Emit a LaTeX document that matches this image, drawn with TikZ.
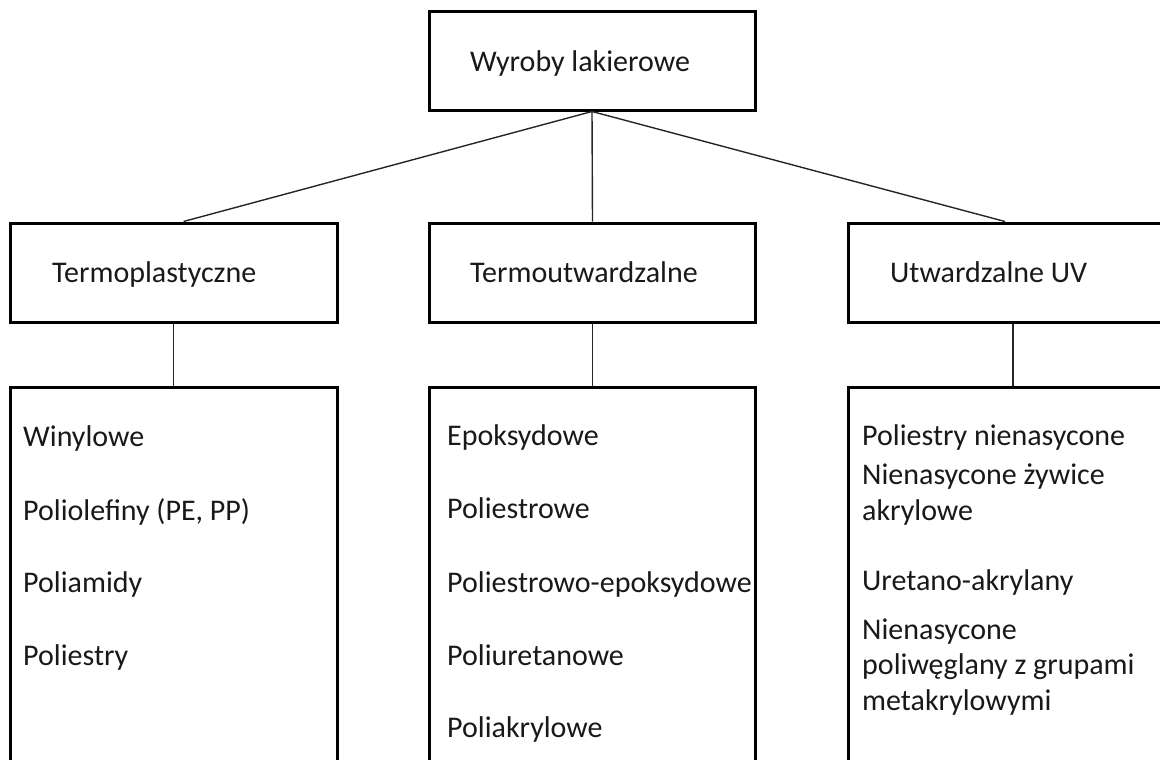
\documentclass[tikz,border=0pt]{standalone}
\usepackage{fontspec}
\setmainfont{Carlito}
\begin{document}
\begin{tikzpicture}[x=1pt,y=-1pt,
  box/.style={draw=black,line width=3pt,inner sep=0pt,fill=none},
  conn/.style={draw=black!85,line width=1.4pt},
  lbl/.style={anchor=base west,inner sep=0pt,align=left,font=\fontsize{30}{35.5}\selectfont,text=black!90}]
\useasboundingbox (0,0) rectangle (1160,760);
\clip (0,0) rectangle (1160,760);
\fill[white] (0,0) rectangle (1160,760);
% boxes
\node[box,minimum width=326pt,minimum height=98pt] (top) at (592,61) {};
\node[box,minimum width=327pt,minimum height=99pt] (m1) at (173.5,272.5) {};
\node[box,minimum width=326pt,minimum height=99pt] (m2) at (592.5,272.5) {};
\node[box,minimum width=330pt,minimum height=99pt] (m3) at (1013,272.5) {};
\node[box,minimum width=327pt,minimum height=413pt] (b1) at (173.5,593.5) {};
\node[box,minimum width=326pt,minimum height=413pt] (b2) at (592.5,593.5) {};
\node[box,minimum width=330pt,minimum height=413pt] (b3) at (1013,593.5) {};
% connectors
\draw[conn] (top.south) -- ([xshift=10pt]m1.north);
\draw[conn] (top.south) -- (m2.north);
\draw[conn] (top.south) -- ([xshift=-8pt]m3.north);
\draw[conn] (m1.south) -- (b1.north);
\draw[conn] (m2.south) -- (b2.north);
\draw[conn] (m3.south) -- (b3.north);
% labels
\node[lbl] (ttop) at (470,72) {Wyroby lakierowe};
\node[lbl] (tm1) at (52,282) {Termoplastyczne};
\node[lbl] (tm2) at (470,282) {Termoutwardzalne};
\node[lbl] (tm3) at (890,282) {Utwardzalne UV};
\node[lbl] (l11) at (23,446) {Winylowe};
\node[lbl] (l12) at (23,520) {Poliolefiny (PE, PP)};
\node[lbl] (l13) at (23,592) {Poliamidy};
\node[lbl] (l14) at (23,665) {Poliestry};
\node[lbl] (l21) at (447,445) {Epoksydowe};
\node[lbl] (l22) at (447,518) {Poliestrowe};
\node[lbl] (l23) at (447,592) {Poliestrowo-epoksydowe};
\node[lbl] (l24) at (447,665) {Poliuretanowe};
\node[lbl] (l25) at (447,737) {Poliakrylowe};
\node[lbl] (l31) at (862,445) {Poliestry nienasycone};
\node[lbl] (l32) at (862,520) {Nienasycone żywice\\akrylowe};
\node[lbl] (l33) at (862,590) {Uretano-akrylany};
\node[lbl] (l34) at (862,710) {Nienasycone\\poliwęglany z grupami\\metakrylowymi};
\end{tikzpicture}
\end{document}
